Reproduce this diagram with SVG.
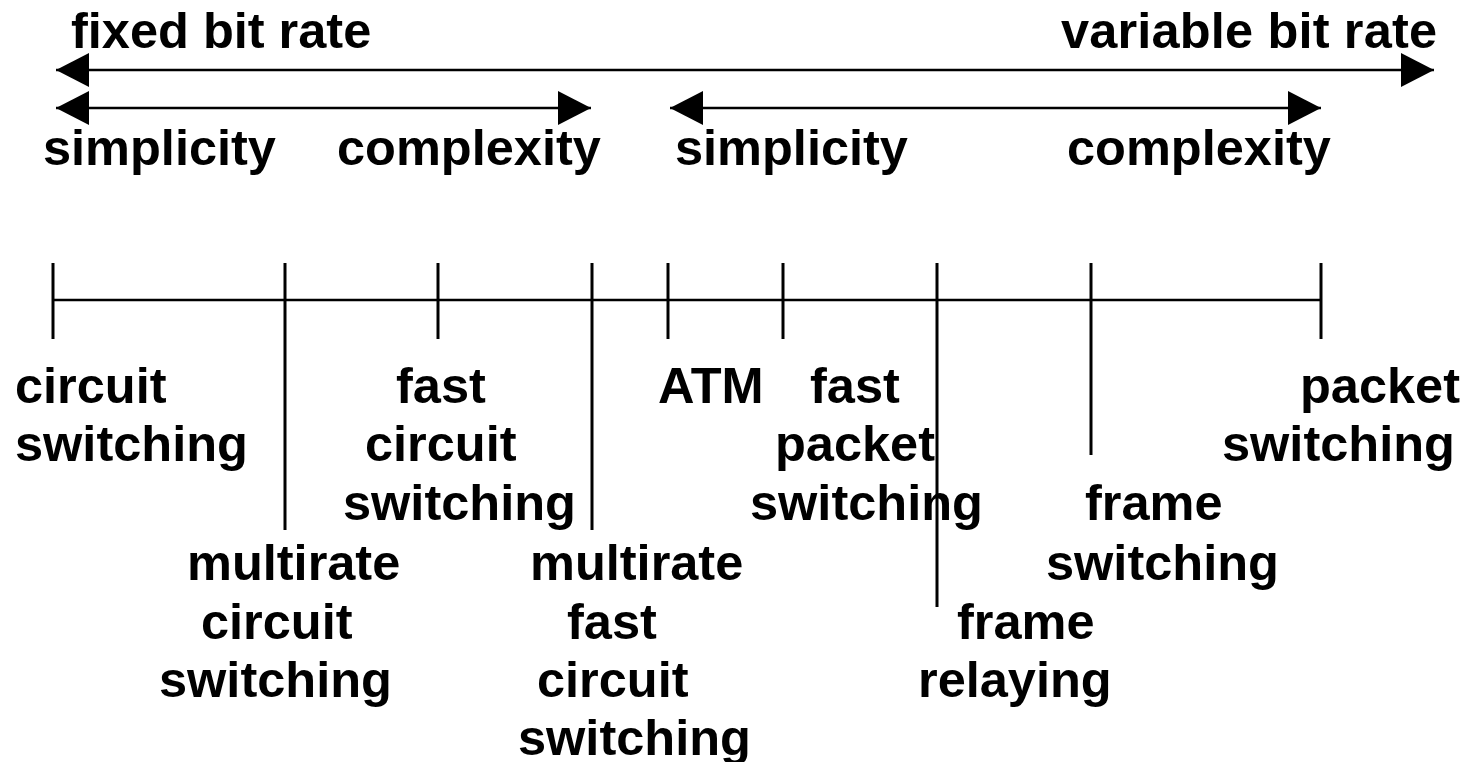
<svg xmlns="http://www.w3.org/2000/svg" width="1470" height="762" viewBox="0 0 1470 762">
<style>
text{font-family:"Liberation Sans",Arial,sans-serif;font-weight:bold;font-size:50.5px;fill:#000}
.ar{stroke:#000;stroke-width:2.5;fill:none}
.tick{stroke:#000;stroke-width:3;fill:none}
.axis{stroke:#000;stroke-width:2.5;fill:none}
</style>
<defs>
<marker id="ah" markerUnits="userSpaceOnUse" markerWidth="34" markerHeight="34" viewBox="0 0 34 34" refX="33" refY="17" orient="auto-start-reverse">
<polygon points="0,0 33,17 0,34" fill="#000"/>
</marker>
</defs>
<g id="connectors">
<line class="ar" x1="56" y1="70" x2="1434" y2="70" marker-start="url(#ah)" marker-end="url(#ah)"/>
<line class="ar" x1="56" y1="108" x2="591" y2="108" marker-start="url(#ah)" marker-end="url(#ah)"/>
<line class="ar" x1="670" y1="108" x2="1321" y2="108" marker-start="url(#ah)" marker-end="url(#ah)"/>
<line class="axis" x1="53" y1="300" x2="1321" y2="300"/>
<line class="tick" x1="53" y1="263" x2="53" y2="339"/>
<line class="tick" x1="285" y1="263" x2="285" y2="530"/>
<line class="tick" x1="438" y1="263" x2="438" y2="339"/>
<line class="tick" x1="592" y1="263" x2="592" y2="530"/>
<line class="tick" x1="668" y1="263" x2="668" y2="339"/>
<line class="tick" x1="783" y1="263" x2="783" y2="339"/>
<line class="tick" x1="937" y1="263" x2="937" y2="607"/>
<line class="tick" x1="1091" y1="263" x2="1091" y2="455"/>
<line class="tick" x1="1321" y1="263" x2="1321" y2="339"/>
</g>
<g id="header">
<text x="71" y="48">fixed bit rate</text>
<text x="1061" y="48" textLength="376">variable bit rate</text>
<text x="43" y="165">simplicity</text>
<text x="337" y="165">complexity</text>
<text x="675" y="165">simplicity</text>
<text x="1067" y="165">complexity</text>
</g>
<g id="circuit-switching"><text x="15" y="403">circuit</text><text x="15" y="461">switching</text></g>
<g id="multirate-circuit-switching"><text x="187" y="580">multirate</text><text x="201" y="639">circuit</text><text x="159" y="697">switching</text></g>
<g id="fast-circuit-switching"><text x="396" y="403">fast</text><text x="365" y="461">circuit</text><text x="343" y="520">switching</text></g>
<g id="multirate-fast-circuit-switching"><text x="530" y="580">multirate</text><text x="567" y="639">fast</text><text x="537" y="697">circuit</text><text x="518" y="755">switching</text></g>
<g id="atm"><text x="658" y="403">ATM</text></g>
<g id="fast-packet-switching"><text x="810" y="403">fast</text><text x="775" y="461">packet</text><text x="750" y="520">switching</text></g>
<g id="frame-relaying"><text x="957" y="639">frame</text><text x="918" y="697">relaying</text></g>
<g id="frame-switching"><text x="1085" y="520">frame</text><text x="1046" y="580">switching</text></g>
<g id="packet-switching"><text x="1300" y="403">packet</text><text x="1222" y="461">switching</text></g>
</svg>
